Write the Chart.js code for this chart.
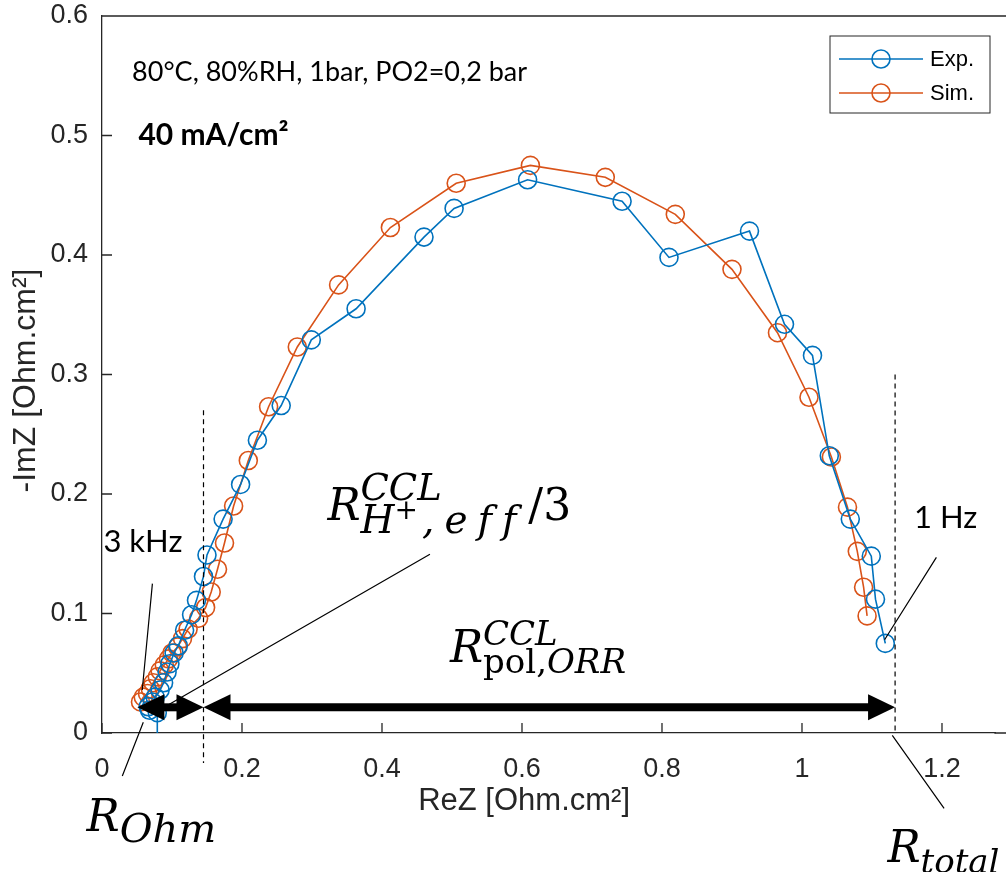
<!DOCTYPE html>
<html>
<head>
<meta charset="utf-8">
<script src="https://cdn.jsdelivr.net/npm/chart.js@4.4.0/dist/chart.umd.min.js"></script>
<style>
  html, body { margin: 0; padding: 0; background: #ffffff; overflow: hidden; }
  canvas { display: block; }
</style>
</head>
<body>
<canvas id="nyquistChart" width="1006" height="872"></canvas>
<script>
// Experimental impedance spectrum (ReZ, -ImZ in Ohm.cm²)
const expRe = [0.079, 0.079, 0.068, 0.066, 0.072, 0.076, 0.083, 0.088, 0.093, 0.097, 0.103, 0.109, 0.118, 0.128, 0.135,
               0.145, 0.150, 0.173, 0.198, 0.222, 0.256, 0.299, 0.363, 0.460, 0.503, 0.608, 0.743, 0.810, 0.925,
               0.975, 1.015, 1.039, 1.069, 1.099, 1.105, 1.119];
const expIm = [-0.030, 0.017, 0.019, 0.022, 0.026, 0.030, 0.036, 0.042, 0.051, 0.058, 0.067, 0.073, 0.086, 0.099, 0.111,
               0.131, 0.149, 0.179, 0.208, 0.245, 0.274, 0.329, 0.355, 0.415, 0.439, 0.463, 0.445, 0.398, 0.420,
               0.342, 0.316, 0.232, 0.179, 0.148, 0.112, 0.075];

// Simulated spectrum
const simRe = [0.055, 0.059, 0.065, 0.069, 0.073, 0.079, 0.083, 0.089, 0.095, 0.100, 0.108, 0.115, 0.123, 0.138,
               0.148, 0.156, 0.165, 0.175, 0.188, 0.209, 0.238, 0.279, 0.338, 0.412, 0.506, 0.612, 0.719, 0.819,
               0.900, 0.965, 1.010, 1.042, 1.065, 1.079, 1.088, 1.093];
const simIm = [0.026, 0.030, 0.033, 0.037, 0.042, 0.047, 0.052, 0.057, 0.062, 0.067, 0.072, 0.079, 0.087, 0.096,
               0.105, 0.118, 0.137, 0.159, 0.190, 0.228, 0.273, 0.323, 0.375, 0.423, 0.460, 0.475, 0.465, 0.434,
               0.388, 0.335, 0.281, 0.231, 0.189, 0.152, 0.122, 0.098];

const xTicks = [0, 0.2, 0.4, 0.6, 0.8, 1, 1.2];
const yTicks = [0, 0.1, 0.2, 0.3, 0.4, 0.5, 0.6];

const blue = '#0072BD';
const orange = '#D95319';
const axisColor = '#262626';
const mathFont = '"DejaVu Serif", serif';
const textFont = 'Lato, "Open Sans", sans-serif';
const sansFont = '"Liberation Sans", Arial, sans-serif';

function tickText(v) {
    if (v === 0) return '0';
    if (v === 1) return '1';
    return v.toFixed(1);
}

// draws a run of math pieces: {t, size, italic, dy, gap} or {stack: [...]}
function drawMath(ctx, x, y, parts) {
    let cx = x;
    parts.forEach(p => {
        if (p.stack) {
            let w = 0;
            p.stack.forEach(s => {
                let sx = cx;
                s.forEach(q => {
                    ctx.font = (q.italic ? 'italic ' : '') + q.size + 'px ' + mathFont;
                    ctx.fillText(q.t, sx, y + (q.dy || 0));
                    sx += ctx.measureText(q.t).width + (q.gap || 0);
                });
                w = Math.max(w, sx - cx);
            });
            cx += w;
        } else {
            ctx.font = (p.italic ? 'italic ' : '') + p.size + 'px ' + mathFont;
            ctx.fillText(p.t, cx, y + (p.dy || 0));
            cx += ctx.measureText(p.t).width + (p.gap || 0);
        }
    });
}

function arrowHead(ctx, tipX, tipY, dir) {
    const len = 27, half = 13;
    ctx.beginPath();
    ctx.moveTo(tipX, tipY);
    ctx.lineTo(tipX - dir * len, tipY - half);
    ctx.lineTo(tipX - dir * len, tipY + half);
    ctx.closePath();
    ctx.fill();
}

function doubleArrow(ctx, x1, x2, y) {
    ctx.save();
    ctx.fillStyle = '#000';
    ctx.strokeStyle = '#000';
    ctx.lineWidth = 8;
    ctx.beginPath();
    ctx.moveTo(x1 + 20, y);
    ctx.lineTo(x2 - 20, y);
    ctx.stroke();
    arrowHead(ctx, x1, y, -1);
    arrowHead(ctx, x2, y, 1);
    ctx.restore();
}

const annotations = {
    id: 'annotations',
    afterDraw(chart) {
        const ctx = chart.ctx;
        const xs = chart.scales.x, ys = chart.scales.y;
        const X = v => xs.getPixelForValue(v);
        const Y = v => ys.getPixelForValue(v);
        const area = chart.chartArea;

        ctx.save();
        // box edges (run to the figure edge) and inward ticks
        ctx.strokeStyle = axisColor;
        ctx.lineWidth = 1.3;
        ctx.beginPath();
        ctx.moveTo(area.left, area.top);
        ctx.lineTo(chart.width, area.top);
        ctx.moveTo(area.right - 1, area.bottom);
        ctx.lineTo(chart.width, area.bottom);
        xTicks.forEach(v => {
            ctx.moveTo(X(v), area.bottom);
            ctx.lineTo(X(v), area.bottom - 10);
        });
        yTicks.forEach(v => {
            ctx.moveTo(area.left, Y(v));
            ctx.lineTo(area.left + 10, Y(v));
        });
        ctx.stroke();

        // axis titles
        ctx.fillStyle = axisColor;
        ctx.font = '31px ' + sansFont;
        ctx.textAlign = 'center';
        ctx.textBaseline = 'middle';
        ctx.fillText('ReZ [Ohm.cm²]', X(0.603), 801);
        ctx.font = '32px ' + sansFont;
        ctx.save();
        ctx.translate(26, Y(0.295));
        ctx.rotate(-Math.PI / 2);
        ctx.fillText('-ImZ [Ohm.cm²]', 0, 0);
        ctx.restore();

        // dashed guide lines
        ctx.strokeStyle = '#000';
        ctx.lineWidth = 1.2;
        ctx.setLineDash([5, 4]);
        ctx.beginPath();
        ctx.moveTo(X(0.145), Y(0.27));
        ctx.lineTo(X(0.145), Y(-0.025));
        ctx.moveTo(X(1.133), Y(0.3));
        ctx.lineTo(X(1.133), Y(0.0));
        ctx.stroke();
        ctx.setLineDash([]);

        // thin leader lines
        ctx.lineWidth = 1.2;
        ctx.beginPath();
        [[0.072, 0.125, 0.0575, 0.036],
         [0.4685, 0.1495, 0.090, 0.022],
         [0.059, 0.009, 0.029, -0.036],
         [1.192, 0.147, 1.118, 0.078],
         [1.129, -0.002, 1.203, -0.063]].forEach(l => {
            ctx.moveTo(X(l[0]), Y(l[1]));
            ctx.lineTo(X(l[2]), Y(l[3]));
        });
        ctx.stroke();

        // resistance arrows
        doubleArrow(ctx, X(0.0505), X(0.145), Y(0.0215));
        doubleArrow(ctx, X(0.145), X(1.133), Y(0.0215));

        // plain labels
        ctx.fillStyle = '#000';
        ctx.textAlign = 'left';
        ctx.textBaseline = 'middle';
        ctx.font = '27px ' + textFont;
        ctx.fillText('80°C, 80%RH, 1bar, PO2=0,2 bar', X(0.043), Y(0.553));
        ctx.font = 'bold 30px ' + textFont;
        ctx.fillText('40 mA/cm²', X(0.052), Y(0.5));
        ctx.font = '31px ' + textFont;
        ctx.fillText('3 kHz', X(0.002), Y(0.16));
        ctx.fillText('1 Hz', X(1.16), Y(0.18));

        // math labels
        ctx.textBaseline = 'alphabetic';
        const M = 44, S = 34;
        drawMath(ctx, X(-0.022), Y(-0.082), [
            {t: 'R', size: M, italic: true},
            {t: 'Ohm', size: 40, italic: true, dy: 11}
        ]);
        drawMath(ctx, X(0.322), Y(0.178), [
            {t: 'R', size: M, italic: true},
            {stack: [
                [{t: 'CCL', size: 37, italic: true, dy: -20}],
                [{t: 'H', size: 39, italic: true, dy: 13},
                 {t: '+', size: 28, dy: -1, gap: 4},
                 {t: ',', size: 39, italic: true, dy: 13, gap: 10},
                 {t: 'e', size: 39, italic: true, dy: 13, gap: 10},
                 {t: 'f', size: 39, italic: true, dy: 13, gap: 10},
                 {t: 'f', size: 39, italic: true, dy: 13, gap: 12}]
            ]},
            {t: '/3', size: M}
        ]);
        drawMath(ctx, X(0.497), Y(0.059), [
            {t: 'R', size: M, italic: true},
            {stack: [
                [{t: 'CCL', size: S, italic: true, dy: -17}],
                [{t: 'pol,', size: S, dy: 11},
                 {t: 'ORR', size: S, italic: true, dy: 11}]
            ]}
        ]);
        drawMath(ctx, X(1.122), Y(-0.108), [
            {t: 'R', size: M, italic: true},
            {t: 'total', size: S, italic: true, dy: 11}
        ]);

        // legend
        const lx = 830, ly = 36, lw = 160, lh = 77;
        ctx.fillStyle = '#ffffff';
        ctx.fillRect(lx, ly, lw, lh);
        ctx.strokeStyle = axisColor;
        ctx.lineWidth = 1;
        ctx.strokeRect(lx, ly, lw, lh);
        [[blue, 'Exp.', 59], [orange, 'Sim.', 93]].forEach(e => {
            ctx.strokeStyle = e[0];
            ctx.lineWidth = 1.6;
            ctx.beginPath();
            ctx.moveTo(839, e[2]);
            ctx.lineTo(923, e[2]);
            ctx.stroke();
            ctx.beginPath();
            ctx.arc(881, e[2], 9, 0, Math.PI * 2);
            ctx.stroke();
            ctx.fillStyle = '#000';
            ctx.font = '22px ' + sansFont;
            ctx.textBaseline = 'middle';
            ctx.fillText(e[1], 930, e[2] + 1);
        });
        ctx.restore();
    }
};

const pts = (xsArr, ysArr) => xsArr.map((x, i) => ({x: x, y: ysArr[i]}));

function seriesStyle(color) {
    return {
        showLine: true,
        borderColor: color,
        backgroundColor: 'rgba(0,0,0,0)',
        borderWidth: 1.6,
        pointRadius: 9,
        pointBorderWidth: 1.6,
        pointBorderColor: color,
        pointBackgroundColor: 'rgba(0,0,0,0)',
        tension: 0
    };
}

new Chart(document.getElementById('nyquistChart'), {
    type: 'scatter',
    data: {
        datasets: [
            Object.assign({label: 'Exp.', data: pts(expRe, expIm)}, seriesStyle(blue)),
            Object.assign({label: 'Sim.', data: pts(simRe, simIm)}, seriesStyle(orange))
        ]
    },
    options: {
        responsive: false,
        animation: false,
        layout: { padding: { top: 16, right: 0, left: 0, bottom: 0 } },
        plugins: {
            legend: { display: false },
            tooltip: { enabled: false }
        },
        scales: {
            x: {
                type: 'linear',
                bounds: 'data',
                min: 0,
                max: 1.2763,
                afterBuildTicks: s => { s.ticks = xTicks.map(v => ({value: v})); },
                afterFit: s => { s.height = 139; s.paddingLeft = 0; s.paddingRight = 0; },
                grid: { display: false, drawTicks: false },
                border: { display: true, color: axisColor, width: 1.3 },
                ticks: {
                    color: axisColor,
                    padding: 20,
                    maxRotation: 0,
                    font: { family: sansFont, size: 27 },
                    callback: v => tickText(v)
                }
            },
            y: {
                type: 'linear',
                bounds: 'data',
                min: 0,
                max: 0.6,
                afterBuildTicks: s => { s.ticks = yTicks.map(v => ({value: v})); },
                afterFit: s => { s.width = 102; s.paddingTop = 0; s.paddingBottom = 0; },
                grid: { display: false, drawTicks: false },
                border: { display: true, color: axisColor, width: 1.3 },
                ticks: {
                    color: axisColor,
                    padding: 14,
                    font: { family: sansFont, size: 27 },
                    callback: v => tickText(v)
                }
            }
        }
    },
    plugins: [annotations]
});
</script>
</body>
</html>
